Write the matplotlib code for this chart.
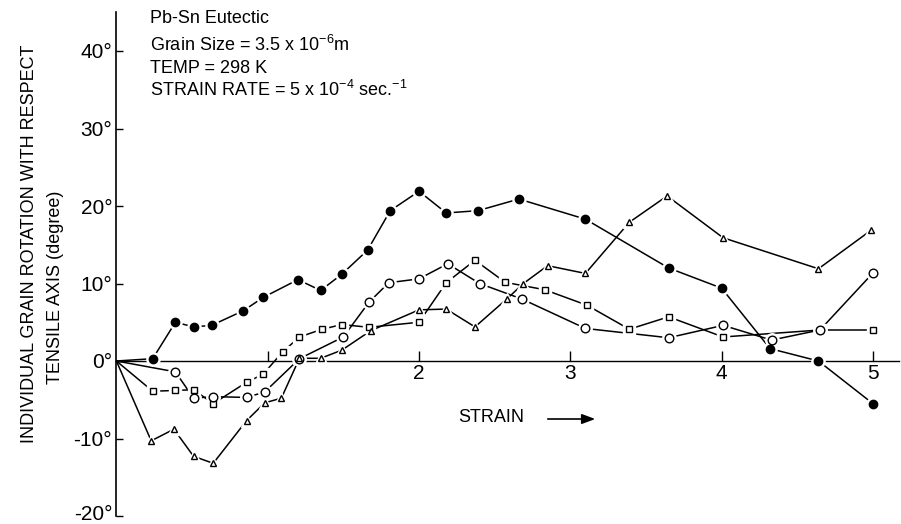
import matplotlib
matplotlib.use("Agg")
import matplotlib.pyplot as plt
import matplotlib.transforms as mtransforms
import numpy as np

plt.rcParams['font.family'] = ['Liberation Sans', 'DejaVu Sans']

# Grain rotation (degrees) versus strain for four individual grains
strain_filled = [0, 0.24, 0.39, 0.51, 0.63, 0.84, 0.97, 1.20, 1.35, 1.49, 1.66, 1.81,
                 2.00, 2.18, 2.39, 2.66, 3.10, 3.65, 4.00, 4.32, 4.64, 5.00]
rot_filled = [0, 0.3, 5.0, 4.4, 4.6, 6.5, 8.2, 10.5, 9.1, 11.2, 14.3, 19.4,
              21.9, 19.1, 19.4, 20.9, 18.3, 12.0, 9.4, 1.6, 0.0, -5.5]

strain_square = [0, 0.24, 0.39, 0.51, 0.64, 0.86, 0.97, 1.10, 1.21, 1.36, 1.49, 1.67,
                 2.00, 2.18, 2.37, 2.57, 2.83, 3.11, 3.39, 3.65, 4.01, 4.65, 5.00]
rot_square = [0, -3.9, -3.8, -3.7, -5.5, -2.75, -1.7, 1.2, 3.1, 4.1, 4.7, 4.35,
              5.0, 10.1, 13.0, 10.15, 9.2, 7.2, 4.1, 5.7, 3.1, 4.0, 4.0]

strain_open = [0, 0.39, 0.51, 0.64, 0.86, 0.98, 1.21, 1.50, 1.67, 1.80, 2.00, 2.19,
               2.40, 2.68, 3.10, 3.65, 4.01, 4.33, 4.65, 5.00]
rot_open = [0, -1.4, -4.8, -4.6, -4.7, -4.0, 0.3, 3.1, 7.6, 10.1, 10.6, 12.55,
            10.0, 8.0, 4.2, 3.0, 4.6, 2.7, 4.0, 11.35]

strain_tri = [0, 0.23, 0.38, 0.51, 0.64, 0.86, 0.98, 1.09, 1.21, 1.35, 1.49, 1.68,
              2.00, 2.18, 2.37, 2.58, 2.69, 2.85, 3.10, 3.39, 3.64, 4.01, 4.64, 4.99]
rot_tri = [0, -10.3, -8.8, -12.3, -13.2, -7.7, -5.4, -4.8, 0.35, 0.35, 1.4, 3.9,
           6.6, 6.7, 4.4, 8.0, 10.0, 12.3, 11.3, 17.9, 21.3, 15.9, 11.9, 16.9]

y_ticks = [-20, -10, 0, 10, 20, 30, 40]
y_tick_labels = ["-20°", "-10°", "0°", "10°", "20°", "30°", "40°"]
x_ticks = [1, 2, 3, 4, 5]
x_tick_labels = ["", "2", "3", "4", "5"]

W, H = 901, 524
fig = plt.figure(figsize=(W / 100, H / 100), dpi=100)

px_per_x = 151.3
x0_px = 116.4
y0_px = 361.0
px_per_deg = 7.75
xmax, ymin, ymax = 5.17, -20, 45
left = x0_px / W
width = xmax * px_per_x / W
top_px = y0_px - ymax * px_per_deg
bot_px = y0_px - ymin * px_per_deg
ax = fig.add_axes([left, 1 - bot_px / H, width, (bot_px - top_px) / H])
ax.set_xlim(0, xmax)
ax.set_ylim(ymin, ymax)

for s in ("top", "right"):
    ax.spines[s].set_visible(False)
ax.spines["bottom"].set_position(("data", 0))
ax.spines["bottom"].set_linewidth(1.0)
ax.spines["left"].set_linewidth(1.2)

ax.set_xticks(x_ticks)
ax.set_xticklabels(x_tick_labels)
ax.set_yticks(y_ticks)
ax.set_yticklabels(y_tick_labels)
ax.tick_params(axis="x", direction="in", length=7, width=1, pad=2, labelsize=15)
ax.tick_params(axis="y", direction="in", length=5, width=1, pad=3, labelsize=15)

# lift the lowest label slightly so it stays inside the canvas
lowest = ax.get_yticklabels()[0]
lowest.set_transform(lowest.get_transform() +
                     mtransforms.ScaledTranslation(0, 3 / 100, fig.dpi_scale_trans))

series = [
    (strain_filled, rot_filled, "o", "black", 6.0),
    (strain_square, rot_square, "s", "white", 4.6),
    (strain_open, rot_open, "o", "white", 6.2),
    (strain_tri, rot_tri, "^", "white", 4.8),
]
for xs, ys, m, fc, ms in series:
    ax.plot(xs, ys, color="black", lw=1.1, zorder=2)
    # white halo so the connecting lines stop short of each symbol
    ax.plot(xs[1:], ys[1:], ls="none", marker=m, ms=ms + 3.5, mfc="white",
            mec="white", zorder=3)
    ax.plot(xs[1:], ys[1:], ls="none", marker=m, ms=ms, mfc=fc, mec="black",
            mew=1.0, zorder=4)

# Experimental conditions
fs = 13
fig.text(150 / W, 1 - 23 / H, "Pb-Sn Eutectic", fontsize=fs, va="baseline")
fig.text(150 / W, 1 - 51 / H, r"Grain Size = 3.5 x 10$^{\mathregular{-6}}$m",
         fontsize=fs, va="baseline")
fig.text(150 / W, 1 - 73 / H, "TEMP = 298 K", fontsize=fs, va="baseline")
fig.text(150 / W, 1 - 96 / H,
         r"STRAIN RATE = 5 x 10$^{\mathregular{-4}}$ sec.$^{\mathregular{-1}}$",
         fontsize=fs, va="baseline")

# Axis titles
fig.text(30 / W, 1 - 244 / H, "INDIVIDUAL GRAIN ROTATION WITH RESPECT",
         rotation=90, fontsize=13, ha="center", va="center")
fig.text(56 / W, 1 - 287 / H, "TENSILE AXIS (degree)",
         rotation=90, fontsize=13, ha="center", va="center")
fig.text(458 / W, 1 - 417 / H, "STRAIN", fontsize=13, ha="left", va="center")
fig.add_artist(matplotlib.patches.FancyArrowPatch(
    (545 / W, 1 - 419 / H), (598 / W, 1 - 419 / H), transform=fig.transFigure,
    arrowstyle="-|>,head_length=8,head_width=3", color="black", lw=1.2,
    mutation_scale=1))

fig.savefig("out.png", dpi=100, facecolor="white")
